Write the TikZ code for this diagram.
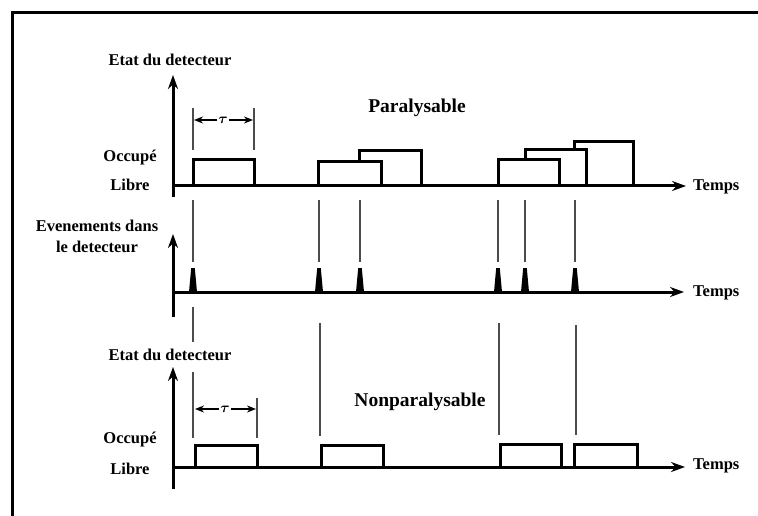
\documentclass[tikz,border=0pt]{standalone}
\usepackage{amsmath}
\usepackage{fontspec}
\setmainfont{Liberation Serif}
\usetikzlibrary{arrows.meta}
\begin{document}
\begin{tikzpicture}[x=1pt,y=-1pt,
  lab/.style={font=\fontsize{16.5}{21}\selectfont\bfseries, inner sep=0pt, align=center},
  ttl/.style={font=\fontsize{19.5}{22}\selectfont\bfseries, inner sep=0pt},
  axisline/.style={line width=3pt, -{Stealth[length=14pt,width=10pt]}},
  pulse/.style={line width=3pt, line join=miter},
  evline/.style={line width=1.6pt, black!70},
  tauarrow/.style={line width=1.8pt, -{Stealth[length=9pt,width=7pt]}},
  spike/.style={fill=black}
]
\useasboundingbox (0,0) rectangle (758,516);
% frame
\draw[line width=3pt] (12.5,530) -- (12.5,12.5) -- (770,12.5);

% ---------- top panel ----------
\node[lab] (etat1) at (170,60) {Etat du detecteur};
\node[ttl] (paral) at (417,108) {Paralysable};
\node[lab] (occ1) at (130,158) {Occupé};
\node[lab] (lib1) at (130,185) {Libre};
\node[lab, anchor=west] (temps1) at (693,187) {Temps};
\draw[axisline] (173,197) -- (173,75);
\draw[axisline] (173,186) -- (686,186);
% tau
\draw[evline] (193,108) -- (193,150);
\draw[evline] (254,108) -- (254,150);
\node[inner sep=1pt, font=\fontsize{15}{16}\selectfont] (tau1) at (223,120) {$\boldsymbol{\tau}$};
\draw[tauarrow] (tau1.west) -- (194,120);
\draw[tauarrow] (tau1.east) -- (253,120);
% pulses
\draw[pulse] (193,186) -- (193,160) -- (254,160) -- (254,186);
\draw[pulse] (318,186) -- (318,162) -- (381,162) -- (381,186);
\draw[pulse] (359,162) -- (359,151) -- (421,151) -- (421,186);
\draw[pulse] (498,186) -- (498,160) -- (559,160) -- (559,186);
\draw[pulse] (525,160) -- (525,150) -- (586,150) -- (586,186);
\draw[pulse] (574,150) -- (574,142) -- (633,142) -- (633,186);

% ---------- middle panel ----------
\node[lab] (evt) at (97,236) {Evenements dans\\le detecteur};
\node[lab, anchor=west] (temps2) at (693,293) {Temps};
\draw[axisline] (173,317) -- (173,234);
\draw[axisline] (173,292) -- (684,292);
\foreach \x in {193,319,360,498,525,575}{
  \draw[evline] (\x,200) -- (\x,262);
  \fill[spike] (\x-4,292) -- (\x-1.8,268) -- (\x+1.8,268) -- (\x+4,292) -- cycle;
}
% event lines below
\draw[evline] (193,307) -- (193,342);
\draw[evline] (320,323) -- (320,436);
\draw[evline] (499,323) -- (499,435);
\draw[evline] (576,325) -- (576,435);

% ---------- bottom panel ----------
\node[lab] (etat2) at (170,355) {Etat du detecteur};
\node[ttl] (nonpar) at (420,402) {Nonparalysable};
\node[lab] (occ2) at (130,440) {Occupé};
\node[lab] (lib2) at (130,469) {Libre};
\node[lab, anchor=west] (temps3) at (693,466) {Temps};
\draw[axisline] (173,489) -- (173,367);
\draw[axisline] (173,467) -- (685,467);
\draw[evline] (193,372) -- (193,438);
\draw[evline] (257,398) -- (257,438);
\node[inner sep=1pt, font=\fontsize{15}{16}\selectfont] (tau2) at (225,409) {$\boldsymbol{\tau}$};
\draw[tauarrow] (tau2.west) -- (195,409);
\draw[tauarrow] (tau2.east) -- (256,409);
\draw[pulse] (195,467) -- (195,445) -- (257,445) -- (257,467);
\draw[pulse] (321,467) -- (321,445) -- (383,445) -- (383,467);
\draw[pulse] (500,467) -- (500,444) -- (561,444) -- (561,467);
\draw[pulse] (574,467) -- (574,444) -- (637,444) -- (637,467);
\end{tikzpicture}
\end{document}
